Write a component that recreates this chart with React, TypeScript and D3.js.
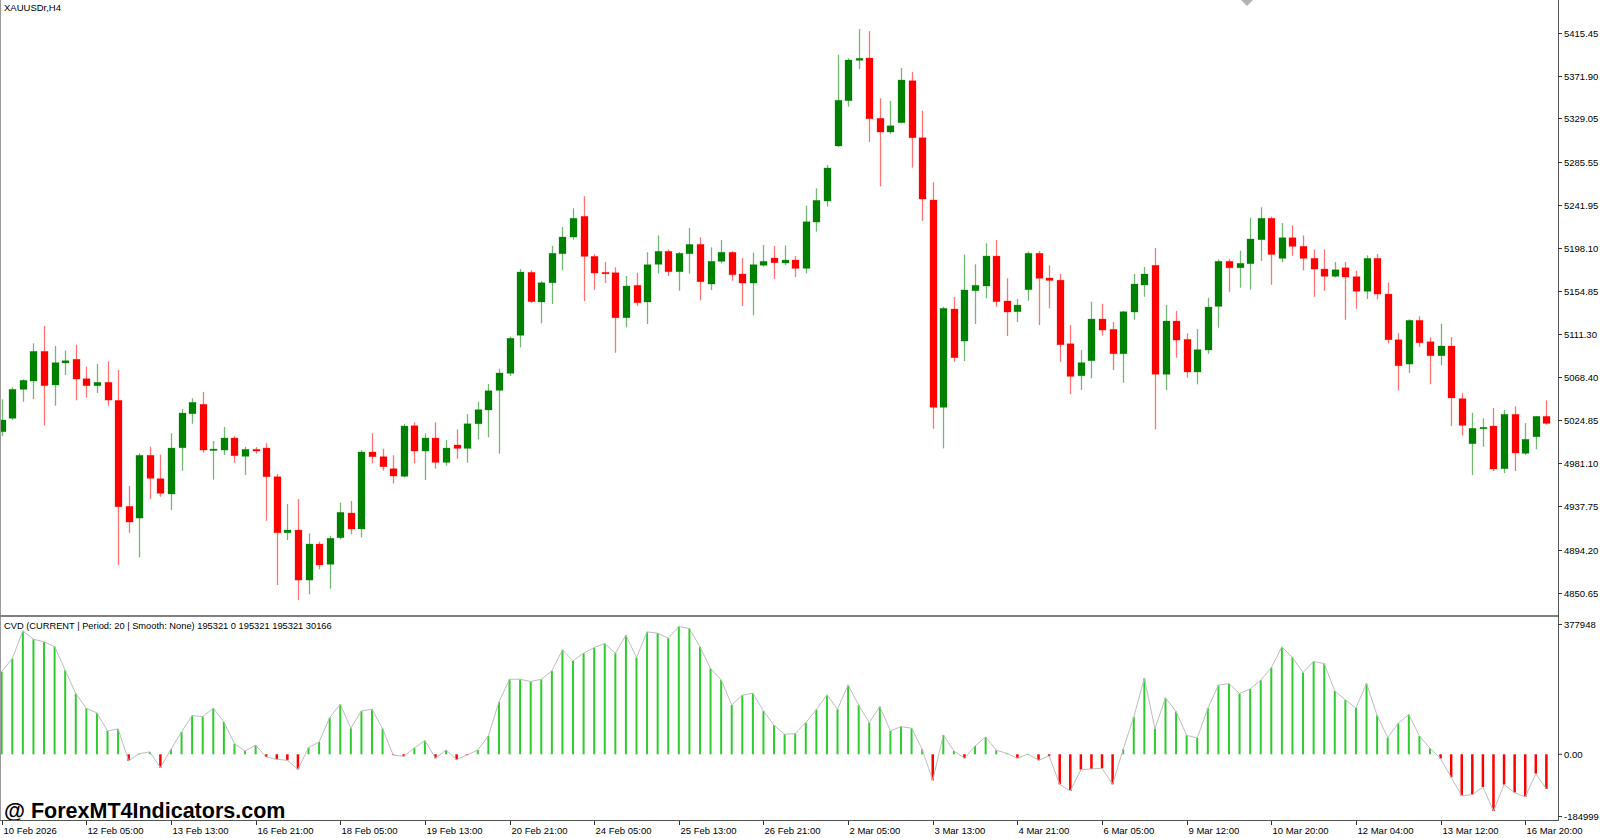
import React from 'react';
import * as d3 from 'd3';

// XAUUSDr H4 candles, 147 bars (10 Feb 2026 21:00 .. 17 Mar 2026)
const opens = [
  5013.1, 5026.6, 5055.8, 5064.2, 5094.1, 5060.2, 5082.4, 5086.1, 5066.5, 5059.5,
  5062.9, 5044.7, 4937.8, 4926.0, 4989.3, 4965.7, 4950.3, 4996.9, 5031.2, 5040.7,
  4994.6, 4994.6, 5006.7, 4988.3, 4995.3, 4996.6, 4967.7, 4911.2, 4913.9, 4863.5,
  4899.8, 4879.4, 4906.2, 4931.1, 4915.0, 4992.6, 4987.9, 4975.8, 4968.1, 5019.1,
  4993.6, 5006.7, 4982.2, 4999.7, 4996.3, 5021.1, 5035.0, 5054.8, 5072.0, 5110.3,
  5173.8, 5143.9, 5163.3, 5192.6, 5209.4, 5230.3, 5189.9, 5173.8, 5173.4, 5128.0,
  5160.7, 5143.9, 5181.9, 5195.0, 5174.4, 5192.6, 5202.0, 5162.0, 5184.9, 5194.0,
  5172.1, 5163.0, 5180.9, 5188.2, 5183.2, 5186.2, 5177.8, 5224.5, 5245.7, 5301.2,
  5346.9, 5387.6, 5389.9, 5329.1, 5315.3, 5324.7, 5367.0, 5309.5, 5246.7, 5037.7,
  5136.8, 5104.5, 5155.3, 5160.0, 5190.2, 5144.9, 5134.1, 5156.3, 5193.0, 5168.1,
  5165.9, 5101.8, 5069.5, 5084.7, 5126.7, 5116.3, 5091.7, 5133.8, 5161.0, 5180.9,
  5071.0, 5124.7, 5106.2, 5073.3, 5095.5, 5139.5, 5184.9, 5178.4, 5182.5, 5206.7,
  5228.3, 5187.9, 5208.7, 5200.0, 5187.9, 5177.1, 5169.8, 5178.4, 5169.4, 5154.7,
  5187.9, 5151.9, 5105.8, 5081.3, 5125.4, 5103.8, 5089.7, 5099.5, 5046.4, 5001.0,
  5016.1, 5018.8, 4975.8, 5030.6, 4991.3, 5008.0, 5028.6,
];

const highs = [
  5045.7, 5057.8, 5065.9, 5102.2, 5119.7, 5099.5, 5094.8, 5100.8, 5078.6, 5081.3,
  5084.1, 5075.3, 4958.3, 4991.3, 4997.9, 4989.9, 5011.5, 5036.0, 5046.8, 5053.1,
  5003.7, 5017.8, 5008.7, 4997.9, 4997.6, 5001.4, 4970.4, 4940.2, 4945.2, 4910.6,
  4902.2, 4907.9, 4941.5, 4943.2, 4994.6, 5011.5, 4995.9, 4989.3, 5020.8, 5022.5,
  5011.5, 5022.5, 5004.7, 5015.5, 5030.9, 5043.3, 5061.2, 5076.6, 5108.9, 5177.1,
  5176.1, 5165.0, 5200.6, 5219.5, 5238.4, 5250.5, 5191.9, 5184.2, 5178.9, 5170.1,
  5173.4, 5194.0, 5211.1, 5197.0, 5194.3, 5218.5, 5209.1, 5199.0, 5206.4, 5195.0,
  5188.2, 5193.6, 5201.3, 5200.3, 5201.0, 5190.2, 5241.0, 5258.5, 5282.0, 5393.2,
  5389.9, 5419.2, 5417.1, 5349.3, 5346.6, 5379.8, 5375.8, 5336.8, 5264.6, 5139.1,
  5148.9, 5191.6, 5181.9, 5203.1, 5206.4, 5167.8, 5146.9, 5194.8, 5195.3, 5180.9,
  5172.1, 5120.7, 5095.5, 5144.2, 5142.1, 5123.7, 5134.8, 5172.1, 5179.2, 5198.3,
  5140.8, 5134.8, 5112.3, 5116.6, 5148.2, 5186.9, 5187.2, 5195.6, 5228.9, 5239.4,
  5230.1, 5223.5, 5221.2, 5211.1, 5197.0, 5197.0, 5184.2, 5184.2, 5175.4, 5191.0,
  5192.3, 5163.3, 5112.6, 5126.4, 5129.4, 5108.3, 5122.0, 5108.6, 5051.8, 5032.2,
  5026.6, 5037.0, 5035.0, 5038.7, 5021.8, 5028.9, 5044.7,
];

const lows = [
  5008.7, 5024.9, 5043.3, 5046.0, 5019.5, 5039.3, 5070.2, 5044.7, 5047.4, 5052.1,
  5039.3, 4878.7, 4911.2, 4886.4, 4945.2, 4947.5, 4934.1, 4973.7, 5021.1, 4991.9,
  4964.7, 4989.6, 4981.8, 4969.4, 4990.9, 4923.3, 4858.5, 4903.9, 4843.4, 4849.1,
  4874.3, 4854.8, 4904.6, 4909.6, 4906.6, 4981.2, 4973.7, 4961.0, 4967.1, 4981.2,
  4964.4, 4975.8, 4978.8, 4985.8, 4981.8, 5005.4, 5007.4, 4990.9, 5069.2, 5098.2,
  5142.9, 5122.4, 5141.8, 5175.8, 5206.7, 5144.9, 5156.0, 5163.0, 5092.7, 5118.4,
  5139.8, 5121.7, 5172.8, 5170.1, 5155.3, 5172.4, 5145.6, 5156.0, 5182.9, 5165.3,
  5139.8, 5130.5, 5179.5, 5167.1, 5181.2, 5169.1, 5172.8, 5214.8, 5240.0, 5300.2,
  5340.8, 5378.8, 5305.2, 5260.5, 5313.6, 5324.1, 5279.3, 5225.8, 5016.1, 4996.3,
  5083.7, 5084.4, 5121.7, 5147.6, 5139.1, 5109.6, 5123.7, 5145.2, 5120.7, 5137.5,
  5083.4, 5051.1, 5055.1, 5066.9, 5109.9, 5075.3, 5062.5, 5126.0, 5149.2, 5015.5,
  5055.1, 5087.7, 5067.5, 5060.9, 5091.7, 5117.9, 5154.2, 5158.3, 5156.3, 5185.2,
  5161.3, 5183.9, 5190.6, 5175.8, 5149.2, 5155.3, 5168.6, 5126.0, 5137.1, 5146.9,
  5146.6, 5102.2, 5054.8, 5072.3, 5098.5, 5060.9, 5080.0, 5018.8, 5009.4, 4969.4,
  4997.9, 4973.4, 4971.4, 4973.4, 4989.6, 4995.3, 5020.1,
];

const closes = [
  5024.9, 5055.8, 5064.9, 5094.1, 5059.5, 5082.7, 5084.7, 5066.2, 5059.5, 5062.9,
  5045.0, 4937.4, 4922.0, 4989.3, 4966.1, 4951.0, 4996.6, 5031.9, 5042.7, 4994.6,
  4995.6, 5006.7, 4988.9, 4995.3, 4993.6, 4967.7, 4911.2, 4913.9, 4863.5, 4899.8,
  4878.7, 4905.6, 4931.8, 4915.0, 4992.6, 4987.9, 4977.8, 4968.4, 5018.8, 4993.6,
  5006.7, 4982.2, 4996.6, 4996.3, 5021.1, 5035.3, 5054.4, 5072.3, 5107.3, 5174.1,
  5144.2, 5163.3, 5193.0, 5209.4, 5228.3, 5189.9, 5173.1, 5172.8, 5128.0, 5160.0,
  5143.2, 5181.5, 5195.0, 5174.4, 5193.0, 5202.0, 5164.3, 5184.9, 5194.0, 5171.4,
  5163.0, 5181.5, 5184.9, 5183.5, 5186.2, 5177.8, 5224.8, 5246.4, 5279.0, 5347.3,
  5387.9, 5389.6, 5328.7, 5315.3, 5321.6, 5367.7, 5309.5, 5247.7, 5037.7, 5137.5,
  5087.7, 5156.0, 5160.7, 5190.2, 5144.2, 5133.8, 5140.8, 5193.0, 5167.8, 5165.7,
  5100.8, 5068.9, 5082.7, 5126.7, 5115.6, 5091.7, 5134.1, 5162.0, 5172.1, 5071.0,
  5124.7, 5105.5, 5073.3, 5095.8, 5138.8, 5184.9, 5178.4, 5182.9, 5207.4, 5228.3,
  5191.9, 5208.7, 5200.0, 5187.9, 5177.1, 5169.8, 5176.4, 5169.1, 5154.7, 5187.9,
  5151.9, 5105.8, 5079.6, 5125.4, 5102.8, 5089.7, 5099.5, 5047.1, 5019.5, 5016.5,
  5017.5, 4975.5, 5030.6, 4991.6, 5005.4, 5028.6, 5021.5,
];

// CVD indicator values per bar
const cvdValues = [
  229400, 265500, 342300, 319100, 311700, 298800, 233100, 168400, 127700, 114700,
  64800, 70300, -18500, 1900, 6500, -37000, 13900, 62000, 107300, 104500,
  127700, 89700, 29600, 9300, 25000, -7400, -13900, -16700, -41600, 18500,
  34200, 101800, 138800, 72200, 120300, 124900, 71200, -1900, -5600, 17600,
  37900, -11100, 12000, -14800, -1900, 12000, 50900, 145200, 208100, 208100,
  201700, 208100, 231300, 289500, 259000, 280300, 296000, 307100, 280300, 330200,
  268300, 339500, 335800, 321900, 354300, 348700, 297900, 237700, 206300, 136900,
  163700, 169300, 120300, 80500, 55500, 57400, 87900, 124000, 164700, 124900,
  192400, 136000, 87900, 132300, 64800, 76800, 72200, 13900, -72200, 53700,
  9300, -11100, 23100, 48100, 11100, 2800, -11100, 800, -16700, -4600,
  -83300, -101800, -42600, -40700, -38900, -83300, 13900, 103600, 210900, 71200,
  156300, 118400, 52700, 45300, 127700, 191500, 196100, 168400, 181300, 205400,
  240500, 297900, 268300, 226600, 257200, 251600, 175800, 150800, 128600, 196100,
  108200, 46300, 86000, 110100, 50900, 16700, -12000, -63800, -114700, -111900,
  -90700, -157300, -84200, -106400, -118400, -53700, -96200,
];

const priceTicks = [
  '5415.45', '5371.90', '5329.05', '5285.55', '5241.95', '5198.10', '5154.85',
  '5111.30', '5068.40', '5024.85', '4981.10', '4937.75', '4894.20', '4850.65',
];

// one label every 8 bars
const timeLabels = [
  '10 Feb 2026', '12 Feb 05:00', '13 Feb 13:00', '16 Feb 21:00', '18 Feb 05:00',
  '19 Feb 13:00', '20 Feb 21:00', '24 Feb 05:00', '25 Feb 13:00', '26 Feb 21:00',
  '2 Mar 05:00', '3 Mar 13:00', '4 Mar 21:00', '6 Mar 05:00', '9 Mar 12:00',
  '10 Mar 20:00', '12 Mar 04:00', '13 Mar 12:00', '16 Mar 20:00',
];

const cvdMax = 377948;
const cvdMin = -184999;

const W = 1600;
const H = 838;
const AXIS_X = 1558;
const MAIN_BOTTOM = 616;
const SUB_TOP = 618;
const SUB_BOTTOM = 821;
const FONT = '"Liberation Sans", Arial, sans-serif';

const App: React.FC = () => {
  const n = closes.length;
  const x = d3.scaleLinear().domain([0, n - 1]).range([1.7, 1.7 + 10.58 * (n - 1)]);
  const y = d3.scaleLinear().domain([4850.65, 5415.45]).range([592.8, 32.7]);
  const yc = d3.scaleLinear().domain([cvdMin, cvdMax]).range([SUB_BOTTOM, SUB_TOP]);

  const cvdLine = d3.line<number>()
    .x((d, i) => x(i))
    .y(d => yc(d));

  return (
    <svg
      width={W}
      height={H}
      style={{ position: 'absolute', left: 0, top: 0, background: '#fff', fontFamily: FONT }}
    >
      <rect x={0} y={0} width={W} height={H} fill="#fff" />

      {/* chart shift marker */}
      <polygon points="1241,0 1253,0 1247,6" fill="#b4b4b4" />

      {/* candles */}
      <g>
        {closes.map((c, i) => {
          const o = opens[i];
          const up = c >= o;
          const col = up ? '#008000' : '#ff0000';
          const cx = Math.round(x(i)) + 0.5;
          const top = y(Math.max(o, c));
          const bot = y(Math.min(o, c));
          return (
            <g key={i}>
              <line
                x1={cx} x2={cx} y1={y(highs[i])} y2={y(lows[i])}
                stroke={col} strokeOpacity={0.55} strokeWidth={1.3}
              />
              <rect
                x={cx - 3.5} y={top} width={7} height={Math.max(1.5, bot - top)}
                fill={col} stroke={col} strokeOpacity={0.35} strokeWidth={0.8}
              />
            </g>
          );
        })}
      </g>

      <text x={4} y={11} fontSize={9.5} fill="#000">XAUUSDr,H4</text>

      {/* CVD histogram */}
      <g>
        {cvdValues.map((v, i) => {
          const cx = x(i);
          const y0 = yc(0);
          const y1 = yc(v);
          const pos = v >= 0;
          return (
            <rect
              key={i}
              x={cx - (pos ? 1 : 1.25)}
              y={Math.min(y0, y1)}
              width={pos ? 2 : 2.5}
              height={Math.max(0.8, Math.abs(y1 - y0))}
              fill={pos ? '#2ecc2e' : '#ff0000'}
            />
          );
        })}
        <path d={cvdLine(cvdValues) || ''} fill="none" stroke="#bdbdbd" strokeWidth={1} />
      </g>

      <text x={4} y={628.5} fontSize={9.3} fill="#000">
        CVD (CURRENT | Period: 20 | Smooth: None) 195321 0 195321 195321 30166
      </text>

      {/* watermark */}
      <text x={4} y={818} fontSize={21.5} fontWeight="bold" fill="#000">
        @ ForexMT4Indicators.com
      </text>

      {/* frame */}
      <line x1={0.5} x2={0.5} y1={0} y2={SUB_BOTTOM} stroke="#9a9a9a" strokeWidth={1} />
      <line x1={0} x2={AXIS_X} y1={MAIN_BOTTOM} y2={MAIN_BOTTOM} stroke="#808080" strokeWidth={2} />
      <line x1={0} x2={AXIS_X} y1={SUB_BOTTOM - 0.5} y2={SUB_BOTTOM - 0.5} stroke="#555" strokeWidth={1} />
      <line x1={AXIS_X + 0.5} x2={AXIS_X + 0.5} y1={0} y2={SUB_BOTTOM} stroke="#555" strokeWidth={1} />

      {/* price axis */}
      {priceTicks.map(t => {
        const ty = Math.round(y(+t)) + 0.5;
        return (
          <g key={t}>
            <line x1={AXIS_X} x2={AXIS_X + 4} y1={ty} y2={ty} stroke="#333" />
            <text x={AXIS_X + 6} y={ty} dy="0.35em" fontSize={9.5} fill="#000">{t}</text>
          </g>
        );
      })}

      {/* CVD axis */}
      {[
        { v: cvdMax, label: '377948', off: 6.5 },
        { v: 0, label: '0.00', off: 0 },
        { v: cvdMin, label: '-184999', off: -4.5 },
      ].map(t => {
        const ty = yc(t.v) + t.off;
        return (
          <g key={t.label}>
            <line x1={AXIS_X} x2={AXIS_X + 4} y1={ty} y2={ty} stroke="#333" />
            <text x={AXIS_X + 6} y={ty} dy="0.35em" fontSize={9.5} fill="#000">{t.label}</text>
          </g>
        );
      })}

      {/* time axis */}
      {timeLabels.map((t, k) => {
        const tx = Math.round(x(k * 8)) + 0.5;
        return (
          <g key={t}>
            <line x1={tx} x2={tx} y1={SUB_BOTTOM} y2={SUB_BOTTOM + 4} stroke="#333" />
            <text x={tx + 1} y={834} fontSize={9.5} fill="#000">{t}</text>
          </g>
        );
      })}
    </svg>
  );
};

export default App;
